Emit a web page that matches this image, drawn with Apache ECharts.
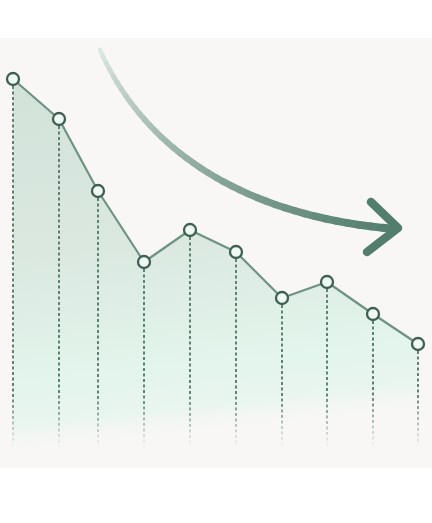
<!DOCTYPE html>
<html>
<head>
<meta charset="utf-8">
<script src="https://cdn.jsdelivr.net/npm/echarts@6/dist/echarts.min.js"></script>
<style>
  html, body { margin: 0; padding: 0; background: #fff; }
  #chart { width: 432px; height: 523px; }
</style>
</head>
<body>
<div id="chart"></div>
<script>
// point positions along the x scale and their heights
var xPos = [13, 59, 98, 144, 190, 236, 282, 327, 373, 418];
var yVals = [389, 349, 277, 206, 238, 216, 170, 186, 154, 124];
var dropEnd = 20; // where the dashed drop lines fade out

// trend arrow, in the same coordinate space
var arrowCurve = [[100, 418], [140, 328], [230, 253], [395, 239]];
var arrowHead = [[371, 266], [398, 240], [367, 216]];

var chart = echarts.init(document.getElementById('chart'));

var points = xPos.map(function (x, i) { return [x, yVals[i]]; });

var option = {
  animation: false,
  grid: {
    left: 0, right: 0, top: 38, bottom: 55,
    show: true,
    backgroundColor: '#f9f7f5',
    borderWidth: 0
  },
  xAxis: { type: 'value', min: 0, max: 432, show: false },
  yAxis: { type: 'value', min: 0, max: 430, show: false },
  series: [
    {
      type: 'line',
      z: 2,
      data: points,
      symbol: 'circle',
      symbolSize: 12,
      itemStyle: { color: '#eefaf3', borderColor: '#3f5f52', borderWidth: 2.3 },
      lineStyle: { color: '#6e9383', width: 2.2 },
      areaStyle: {
        color: {
          type: 'linear', x: 0, y: 0, x2: 0.1, y2: 1,
          colorStops: [
            { offset: 0, color: '#d2e2d9' },
            { offset: 0.45, color: '#dae8e0' },
            { offset: 0.78, color: '#e3f5ec' },
            { offset: 0.88, color: '#e9f5ef' },
            { offset: 0.96, color: 'rgba(249,247,245,0.3)' },
            { offset: 1, color: 'rgba(249,247,245,0)' }
          ]
        },
        opacity: 1
      }
    },
    {
      // dashed drop lines
      type: 'custom',
      z: 4,
      data: points,
      renderItem: function (params, api) {
        var top = api.coord([api.value(0), api.value(1)]);
        var bot = api.coord([api.value(0), dropEnd]);
        var fadeTop = api.coord([0, 75])[1];
        return {
          type: 'line',
          shape: { x1: top[0], y1: top[1] + 7, x2: bot[0], y2: bot[1] },
          style: {
            stroke: {
              type: 'linear', global: true,
              x: 0, y: fadeTop, x2: 0, y2: bot[1],
              colorStops: [
                { offset: 0, color: 'rgba(88,124,108,0.95)' },
                { offset: 1, color: 'rgba(88,124,108,0)' }
              ]
            },
            lineWidth: 2,
            lineDash: [3, 2.5]
          }
        };
      }
    }
  ]
};
chart.setOption(option);

// arrow drawn as short pieces so it can thicken and darken toward the head
function bez(t, p) {
  var u = 1 - t;
  return [
    u * u * u * p[0][0] + 3 * u * u * t * p[1][0] + 3 * u * t * t * p[2][0] + t * t * t * p[3][0],
    u * u * u * p[0][1] + 3 * u * u * t * p[1][1] + 3 * u * t * t * p[2][1] + t * t * t * p[3][1]
  ];
}
function mix(a, b, t) {
  return 'rgb(' + [0, 1, 2].map(function (k) { return Math.round(a[k] + (b[k] - a[k]) * t); }).join(',') + ')';
}
var px = arrowCurve.map(function (p) { return chart.convertToPixel({ gridIndex: 0 }, p); });
var headPx = arrowHead.map(function (p) { return chart.convertToPixel({ gridIndex: 0 }, p); });
var startCol = [224, 234, 229], endCol = [83, 126, 110];
var graphics = [];
var N = 40;
for (var i = 0; i < N; i++) {
  var t0 = i / N, t1 = (i + 1) / N;
  var a = bez(t0, px), b = bez(t1, px);
  var tm = Math.pow((t0 + t1) / 2, 0.8);
  graphics.push({
    type: 'line',
    z: 10,
    shape: { x1: a[0], y1: a[1], x2: b[0], y2: b[1] },
    style: { stroke: mix(startCol, endCol, tm), lineWidth: 4.5 + 3.5 * tm, lineCap: 'round' }
  });
}
graphics.push({
  type: 'polyline',
  z: 11,
  shape: { points: headPx },
  style: { stroke: 'rgb(83,126,110)', lineWidth: 8.5, lineCap: 'round', lineJoin: 'round', fill: null }
});
chart.setOption({ graphic: graphics });
</script>
</body>
</html>
